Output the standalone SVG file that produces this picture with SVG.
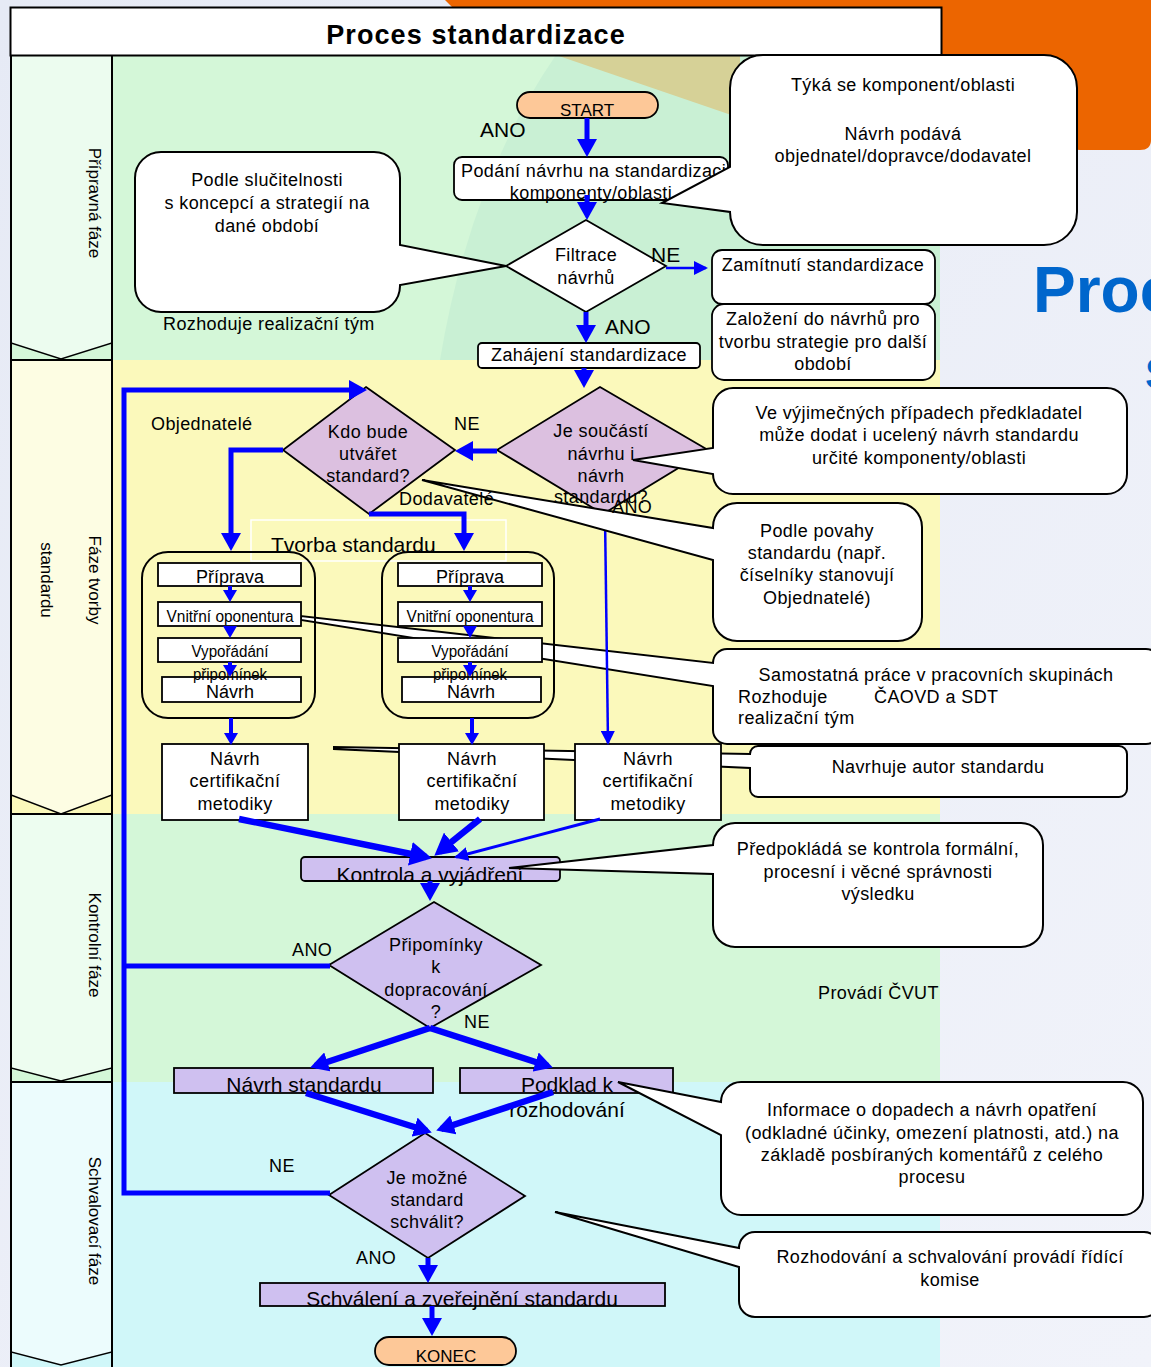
<svg xmlns="http://www.w3.org/2000/svg" width="1151" height="1367" viewBox="0 0 1151 1367">
<style>
.f{font-family:"Liberation Sans",Arial,sans-serif;fill:#000}
.m{font-size:18px;letter-spacing:.4px}
.l{font-size:21px}
.n{font-size:16px}
.c{text-anchor:middle}
.bx{fill:#fff;stroke:#000;stroke-width:1.8}
.pu{fill:#cfc0f0;stroke:#000;stroke-width:1.8}
.pk{fill:#dcc0e0;stroke:#000;stroke-width:1.8}
.co{fill:#fff;stroke:#000;stroke-width:2}
.w{fill:none;stroke:#0000ff;stroke-width:5}
.w6{fill:none;stroke:#0000ff;stroke-width:6.5}
.t{fill:none;stroke:#0000ff;stroke-width:2.5}
.s{fill:none;stroke:#0000ff;stroke-width:4}
</style>
<defs>
<marker id="ah" markerUnits="userSpaceOnUse" markerWidth="18" markerHeight="20" refX="13" refY="10" orient="auto"><path d="M0,0 L18,10 L0,20 Z" fill="#0000ff"/></marker>
<marker id="ahb" markerUnits="userSpaceOnUse" markerWidth="22" markerHeight="24" refX="16" refY="12" orient="auto"><path d="M0,0 L22,12 L0,24 Z" fill="#0000ff"/></marker>
<marker id="ahs" markerUnits="userSpaceOnUse" markerWidth="12" markerHeight="14" refX="8" refY="7" orient="auto"><path d="M0,0 L12,7 L0,14 Z" fill="#0000ff"/></marker>
<marker id="aht" markerUnits="userSpaceOnUse" markerWidth="14" markerHeight="14" refX="12" refY="7" orient="auto"><path d="M0,0 L14,7 L0,14 Z" fill="#0000ff"/></marker>
<linearGradient id="pg" x1="0" y1="0" x2="1" y2="1"><stop offset="0" stop-color="#e6eaf5"/><stop offset="1" stop-color="#f1f3fa"/></linearGradient>
</defs>

<!-- page background -->
<rect x="0" y="0" width="1151" height="1367" fill="url(#pg)"/>
<path d="M445,0 H1151 V140 Q1151,150 1140,150 H1080 L740,118 L452,7 Z" fill="#ec6500"/>

<!-- lanes -->
<g id="lanes">
<rect x="112" y="55" width="828" height="305" fill="#d4f7d8"/>
<path d="M556,55 H940 V360 H440 Q470,180 556,55 Z" fill="#c9f0d4"/>
<polygon points="556,55 740,55 740,118" fill="#d6d197"/>
<rect x="112" y="360" width="828" height="454" fill="#fbf9bb"/>
<rect x="112" y="814" width="828" height="268" fill="#d4f7d8"/>
<rect x="112" y="1082" width="828" height="285" fill="#d0f7f9"/>
<rect x="11" y="55" width="101" height="305" fill="#d4f7d8"/>
<rect x="11" y="360" width="101" height="454" fill="#fbf9bb"/>
<rect x="11" y="814" width="101" height="268" fill="#d4f7d8"/>
<rect x="11" y="1082" width="101" height="285" fill="#d0f7f9"/>
<polygon points="11,55 112,55 112,343 61,359 11,343" fill="#ecfcef" stroke="#000" stroke-width="1.5"/>
<polygon points="11,360 112,360 112,795 61,814 11,795" fill="#fdfde3" stroke="#000" stroke-width="1.5"/>
<polygon points="11,814 112,814 112,1068 61,1081 11,1068" fill="#edfdf0" stroke="#000" stroke-width="1.5"/>
<polygon points="11,1082 112,1082 112,1352 61,1365 11,1352" fill="#ecfcfd" stroke="#000" stroke-width="1.5"/>
<path d="M11,55 V1367 M112,55 V1367 M11,360 H112 M11,814 H112 M11,1082 H112" stroke="#000" stroke-width="2" fill="none"/>
<text class="f" font-size="17" text-anchor="middle" x="89" y="203" transform="rotate(90 89 203)">Přípravná fáze</text>
<text class="f" font-size="17" text-anchor="middle" x="89" y="580" transform="rotate(90 89 580)">Fáze tvorby</text>
<text class="f" font-size="17" text-anchor="middle" x="41" y="580" transform="rotate(90 41 580)">standardu</text>
<text class="f" font-size="17" text-anchor="middle" x="89" y="945" transform="rotate(90 89 945)">Kontrolní fáze</text>
<text class="f" font-size="17" text-anchor="middle" x="89" y="1221" transform="rotate(90 89 1221)">Schvalovací fáze</text>
</g>

<!-- title -->
<g id="title">
<rect x="10.5" y="7.5" width="931" height="48" fill="#fff" stroke="#000" stroke-width="2"/>
<text class="f c" x="476" y="44" font-size="27" font-weight="bold" letter-spacing="1.1">Proces standardizace</text>
</g>
<text class="f" x="1033" y="312" font-size="64" font-weight="bold" style="fill:#0066cc">Proc</text>
<text class="f" x="1145" y="389" font-size="44" font-weight="bold" style="fill:#0066cc">S</text>

<!-- callouts that sit under nodes -->
<g id="callout-samostatna">
<path class="co" d="M727,649 H1146 A14,14 0 0 1 1160,663 V730 A14,14 0 0 1 1146,744 H727 A14,14 0 0 1 713,730 V686 L301,620 L301,616 L713,663 A14,14 0 0 1 727,649 Z"/>
<text class="f m c" x="936" y="681">Samostatná práce v pracovních skupinách</text>
<text class="f m" x="738" y="703">Rozhoduje</text>
<text class="f m" x="874" y="703">ČAOVD a SDT</text>
<text class="f m" x="738" y="724">realizační tým</text>
</g>
<g id="callout-navrhuje">
<path class="co" d="M758,746 H1119 A8,8 0 0 1 1127,754 V789 A8,8 0 0 1 1119,797 H758 A8,8 0 0 1 750,789 V768 L334,749 L334,747 L750,754 A8,8 0 0 1 758,746 Z"/>
<text class="f m c" x="938" y="773">Navrhuje autor standardu</text>
</g>

<!-- nodes -->
<g id="start">
<rect x="517" y="92" width="141" height="26" rx="13" fill="#fdc898" stroke="#000" stroke-width="1.8"/>
<text class="f c" x="587" y="116" font-size="17">START</text>
</g>
<g id="podani">
<rect class="bx" x="454" y="157" width="274" height="43" rx="8"/>
<text class="f m" x="461" y="177">Podání návrhu na standardizaci</text>
<text class="f m c" x="591" y="199">komponenty/oblasti</text>
</g>
<g id="filtrace">
<polygon class="bx" points="586,220 666,266 586,312 506,266"/>
<text class="f m c" x="586" y="261">Filtrace</text>
<text class="f m c" x="586" y="284">návrhů</text>
</g>
<g id="zamitnuti">
<rect class="bx" x="712" y="250" width="223" height="54" rx="10"/>
<text class="f m c" x="823" y="271">Zamítnutí standardizace</text>
</g>
<g id="zalozeni">
<rect class="bx" x="712" y="304" width="223" height="76" rx="12"/>
<text class="f m c" x="823" y="325">Založení do návrhů pro</text>
<text class="f m c" x="823" y="348">tvorbu strategie pro další</text>
<text class="f m c" x="823" y="370">období</text>
</g>
<g id="zahajeni">
<rect class="bx" x="478" y="343" width="222" height="25" rx="4"/>
<text class="f m c" x="589" y="361">Zahájení standardizace</text>
</g>
<g id="je-soucasti">
<polygon class="pk" points="600,387 708,450 603,514 497,450"/>
<text class="f m c" x="601" y="437">Je součástí</text>
<text class="f m c" x="601" y="460">návrhu i</text>
<text class="f m c" x="601" y="482">návrh</text>
<text class="f m c" x="601" y="503">standardu?</text>
</g>
<g id="kdo-bude">
<polygon class="pk" points="366,387 455,450 369,514 283,450"/>
<text class="f m c" x="368" y="438">Kdo bude</text>
<text class="f m c" x="368" y="460">utvářet</text>
<text class="f m c" x="368" y="482">standard?</text>
</g>
<g id="tvorba-label">
<rect x="251" y="520" width="255" height="41" fill="none" stroke="#fff" stroke-width="1.5"/>
<text class="f l" x="271" y="552">Tvorba standardu</text>
</g>
<g id="skupina-objednatele">
<rect x="142" y="552" width="173" height="166" rx="26" fill="none" stroke="#000" stroke-width="2"/>
<rect class="bx" x="158" y="563" width="143" height="23"/>
<rect class="bx" x="158" y="602" width="143" height="24"/>
<rect class="bx" x="158" y="638" width="143" height="24"/>
<rect class="bx" x="162" y="677" width="139" height="25"/>
<text class="f c" x="230" y="583" font-size="18">Příprava</text>
<text class="f c" x="230" y="622" font-size="16" textLength="127" lengthAdjust="spacingAndGlyphs">Vnitřní oponentura</text>
<text class="f c" x="230" y="657" font-size="16" textLength="77" lengthAdjust="spacingAndGlyphs">Vypořádání</text>
<text class="f c" x="230" y="698" font-size="18">Návrh</text>
<text class="f c" x="230" y="680" font-size="16" textLength="74" lengthAdjust="spacingAndGlyphs">připomínek</text>
</g>
<g id="skupina-dodavatele">
<rect x="382" y="552" width="172" height="166" rx="26" fill="none" stroke="#000" stroke-width="2"/>
<rect class="bx" x="398" y="563" width="144" height="23"/>
<rect class="bx" x="398" y="602" width="144" height="24"/>
<rect class="bx" x="398" y="638" width="144" height="24"/>
<rect class="bx" x="402" y="677" width="139" height="25"/>
<text class="f c" x="470" y="583" font-size="18">Příprava</text>
<text class="f c" x="470" y="622" font-size="16" textLength="127" lengthAdjust="spacingAndGlyphs">Vnitřní oponentura</text>
<text class="f c" x="470" y="657" font-size="16" textLength="77" lengthAdjust="spacingAndGlyphs">Vypořádání</text>
<text class="f c" x="471" y="698" font-size="18">Návrh</text>
<text class="f c" x="470" y="680" font-size="16" textLength="74" lengthAdjust="spacingAndGlyphs">připomínek</text>
</g>
<g id="certifikace-1">
<rect class="bx" x="162" y="744" width="146" height="76"/>
<text class="f m c" x="235" y="765">Návrh</text>
<text class="f m c" x="235" y="787">certifikační</text>
<text class="f m c" x="235" y="810">metodiky</text>
</g>
<g id="certifikace-2">
<rect class="bx" x="399" y="744" width="145" height="76"/>
<text class="f m c" x="472" y="765">Návrh</text>
<text class="f m c" x="472" y="787">certifikační</text>
<text class="f m c" x="472" y="810">metodiky</text>
</g>
<g id="certifikace-3">
<rect class="bx" x="575" y="744" width="146" height="76"/>
<text class="f m c" x="648" y="765">Návrh</text>
<text class="f m c" x="648" y="787">certifikační</text>
<text class="f m c" x="648" y="810">metodiky</text>
</g>
<g id="kontrola">
<rect class="pu" x="301" y="857" width="259" height="24" rx="4"/>
<text class="f l c" x="430" y="882">Kontrola a vyjádření</text>
</g>
<g id="pripominky">
<polygon class="pu" points="434,902 541,965 430,1028 329,965"/>
<text class="f m c" x="436" y="951">Připomínky</text>
<text class="f m c" x="436" y="973">k</text>
<text class="f m c" x="436" y="996">dopracování</text>
<text class="f m c" x="436" y="1018">?</text>
</g>
<g id="navrh-standardu">
<rect class="pu" x="174" y="1068" width="259" height="25"/>
<text class="f l c" x="304" y="1092">Návrh standardu</text>
</g>
<g id="podklad">
<rect class="pu" x="460" y="1068" width="213" height="25"/>
<text class="f l c" x="567" y="1092">Podklad k</text>
<text class="f l c" x="567" y="1117">rozhodování</text>
</g>
<g id="je-mozne">
<polygon class="pu" points="425,1133 525,1196 428,1258 329,1195"/>
<text class="f m c" x="427" y="1184">Je možné</text>
<text class="f m c" x="427" y="1206">standard</text>
<text class="f m c" x="427" y="1228">schválit?</text>
</g>
<g id="schvaleni">
<rect class="pu" x="260" y="1283" width="405" height="23"/>
<text class="f l c" x="462" y="1306">Schválení a zveřejnění standardu</text>
</g>
<g id="konec">
<rect x="375" y="1337" width="141" height="28" rx="14" fill="#fdc898" stroke="#000" stroke-width="1.8"/>
<text class="f c" x="446" y="1362" font-size="17">KONEC</text>
</g>

<!-- connectors -->
<g id="connectors">
<path class="w" d="M587,118 V152" marker-end="url(#ah)"/>
<path class="w" d="M587,195 V215" marker-end="url(#ah)"/>
<path class="t" d="M666,268 H706" marker-end="url(#aht)"/>
<path class="w" d="M586,312 V338" marker-end="url(#ah)"/>
<path class="w" d="M584,368 V383" marker-end="url(#ah)"/>
<path class="w" d="M497,451 H460" marker-end="url(#ah)"/>
<path class="w" d="M283,450 H231 V546" marker-end="url(#ah)"/>
<path class="w" d="M369,514 H464 V546" marker-end="url(#ah)"/>
<path class="t" d="M605,516 L608,743" marker-end="url(#aht)"/>
<path class="s" d="M230,586 V598" marker-end="url(#ahs)"/>
<path class="s" d="M230,626 V634" marker-end="url(#ahs)"/>
<path class="s" d="M230,662 V673" marker-end="url(#ahs)"/>
<path class="s" d="M470,586 V598" marker-end="url(#ahs)"/>
<path class="s" d="M470,626 V634" marker-end="url(#ahs)"/>
<path class="s" d="M470,662 V673" marker-end="url(#ahs)"/>
<path class="s" d="M231,718 V741" marker-end="url(#ahs)"/>
<path class="s" d="M472,718 V741" marker-end="url(#ahs)"/>
<path class="w6" d="M239,819 L426,857" marker-end="url(#ahb)"/>
<path class="w6" d="M480,819 L439,852" marker-end="url(#ahb)"/>
<path class="t" style="stroke-width:3" d="M600,819 L456,857" marker-end="url(#aht)"/>
<path class="w" d="M430,881 V896" marker-end="url(#ah)"/>
<path class="w6" d="M430,1028 L315,1066" marker-end="url(#ah)"/>
<path class="w6" d="M430,1028 L548,1066" marker-end="url(#ah)"/>
<path class="w6" d="M306,1093 L427,1131" marker-end="url(#ah)"/>
<path class="w6" d="M553,1092 L441,1129" marker-end="url(#ah)"/>
<path class="w" d="M428,1258 V1278" marker-end="url(#ah)"/>
<path class="w" d="M432,1306 V1331" marker-end="url(#ah)"/>
<path class="w" d="M330,1193 H124 V390 H362" marker-end="url(#ah)"/>
<path class="w" d="M330,966 H124"/>
</g>

<!-- callouts -->
<g id="callout-tyka">
<path class="co" d="M763,55 H1044 A33,33 0 0 1 1077,88 V212 A33,33 0 0 1 1044,245 H763 A33,33 0 0 1 730,212 L662,203 L730,167 V88 A33,33 0 0 1 763,55 Z"/>
<text class="f m c" x="903" y="91">Týká se komponent/oblasti</text>
<text class="f m c" x="903" y="140">Návrh podává</text>
<text class="f m c" x="903" y="162">objednatel/dopravce/dodavatel</text>
</g>
<g id="callout-slucitelnost">
<path class="co" d="M161,152 H374 A26,26 0 0 1 400,178 V245 L506,266 L400,285 V286 A26,26 0 0 1 374,312 H161 A26,26 0 0 1 135,286 V178 A26,26 0 0 1 161,152 Z"/>
<text class="f m c" x="267" y="186">Podle slučitelnosti</text>
<text class="f m c" x="267" y="209">s koncepcí a strategií na</text>
<text class="f m c" x="267" y="232">dané období</text>
</g>
<g id="callout-vyjimecne">
<path class="co" d="M733,388 H1107 A20,20 0 0 1 1127,408 V474 A20,20 0 0 1 1107,494 H733 A20,20 0 0 1 713,474 L633,460 L713,448 V408 A20,20 0 0 1 733,388 Z"/>
<text class="f m c" x="919" y="419">Ve výjimečných případech předkladatel</text>
<text class="f m c" x="919" y="441">může dodat i ucelený návrh standardu</text>
<text class="f m c" x="919" y="464">určité komponenty/oblasti</text>
</g>
<g id="callout-povaha">
<path class="co" d="M737,503 H898 A24,24 0 0 1 922,527 V617 A24,24 0 0 1 898,641 H737 A24,24 0 0 1 713,617 V560 L422,480 L713,528 V527 A24,24 0 0 1 737,503 Z"/>
<text class="f m c" x="817" y="537">Podle povahy</text>
<text class="f m c" x="817" y="559">standardu (např.</text>
<text class="f m c" x="817" y="581">číselníky stanovují</text>
<text class="f m c" x="817" y="604">Objednatelé)</text>
</g>
<g id="callout-kontrola">
<path class="co" d="M735,823 H1021 A22,22 0 0 1 1043,845 V925 A22,22 0 0 1 1021,947 H735 A22,22 0 0 1 713,925 V874 L509,868 L713,845 A22,22 0 0 1 735,823 Z"/>
<text class="f m c" x="878" y="855">Předpokládá se kontrola formální,</text>
<text class="f m c" x="878" y="878">procesní i věcné správnosti</text>
<text class="f m c" x="878" y="900">výsledku</text>
</g>
<g id="callout-informace">
<path class="co" d="M741,1082 H1123 A20,20 0 0 1 1143,1102 V1195 A20,20 0 0 1 1123,1215 H741 A20,20 0 0 1 721,1195 V1135 L618,1082 L721,1102 A20,20 0 0 1 741,1082 Z"/>
<text class="f m c" x="932" y="1116">Informace o dopadech a návrh opatření</text>
<text class="f m c" x="932" y="1139">(odkladné účinky, omezení platnosti, atd.) na</text>
<text class="f m c" x="932" y="1161">základě posbíraných komentářů z celého</text>
<text class="f m c" x="932" y="1183">procesu</text>
</g>
<g id="callout-rozhodovani">
<path class="co" d="M755,1232 H1144 A16,16 0 0 1 1160,1248 V1301 A16,16 0 0 1 1144,1317 H755 A16,16 0 0 1 739,1301 V1267 L555,1212 L739,1248 A16,16 0 0 1 755,1232 Z"/>
<text class="f m c" x="950" y="1263">Rozhodování a schvalování provádí řídící</text>
<text class="f m c" x="950" y="1286">komise</text>
</g>

<!-- free labels -->
<g id="labels">
<text class="f l" x="480" y="137">ANO</text>
<text class="f l" x="651" y="262">NE</text>
<text class="f l" x="605" y="334">ANO</text>
<text class="f m" x="163" y="330">Rozhoduje realizační tým</text>
<text class="f m" x="151" y="430">Objednatelé</text>
<text class="f m" x="454" y="430">NE</text>
<text class="f m" x="399" y="505">Dodavatelé</text>
<text class="f m" x="612" y="513">ANO</text>
<text class="f m" x="292" y="956">ANO</text>
<text class="f m" x="464" y="1028">NE</text>
<text class="f m" x="818" y="999">Provádí ČVUT</text>
<text class="f m" x="269" y="1172">NE</text>
<text class="f m" x="356" y="1264">ANO</text>
</g>
</svg>
